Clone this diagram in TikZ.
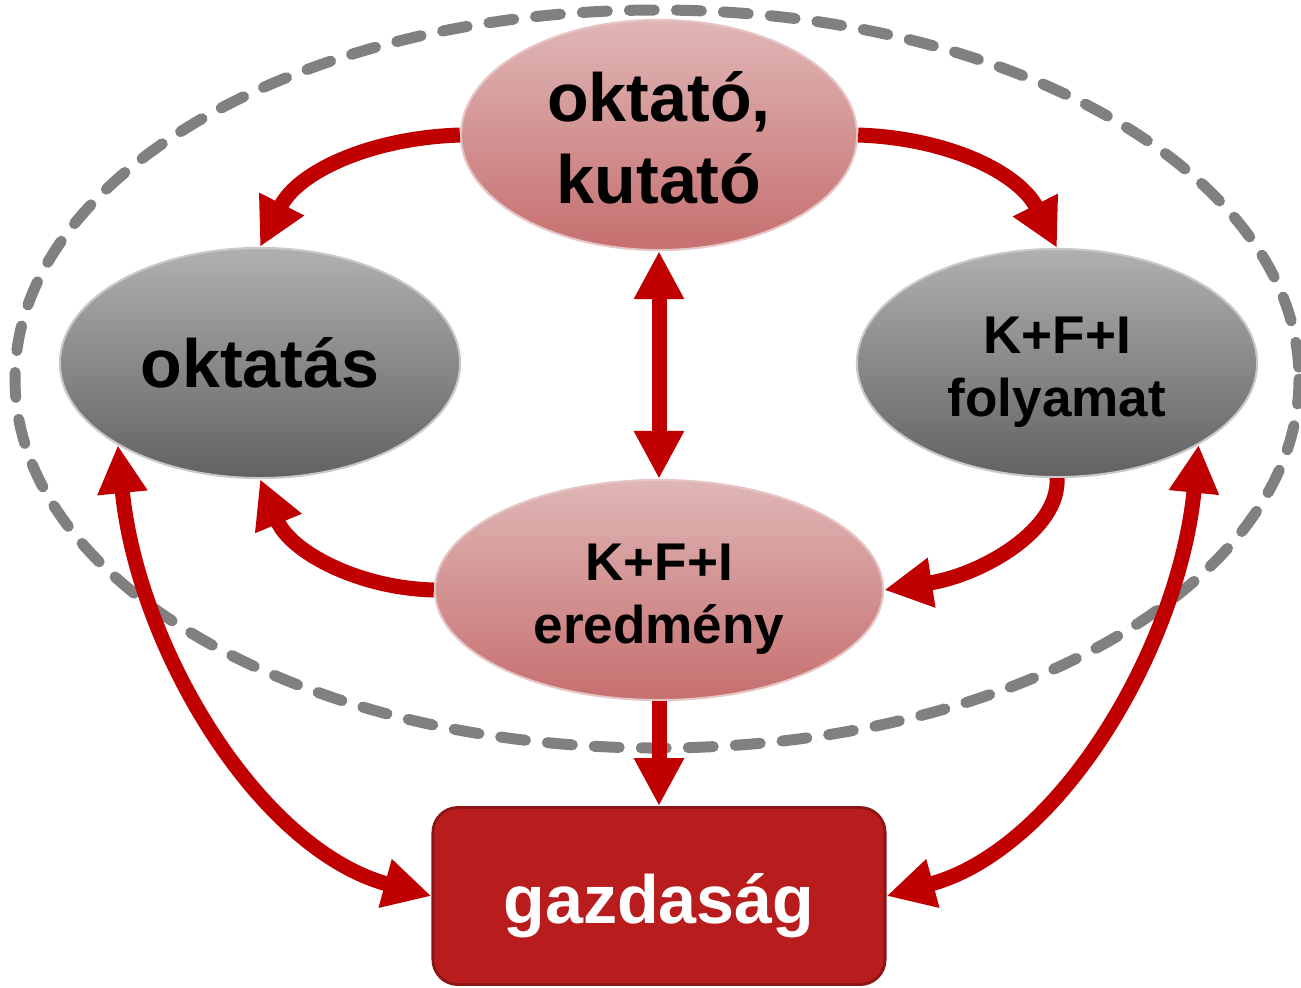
\documentclass[tikz,border=0pt]{standalone}
\usepackage{fontspec}
\setmainfont{Liberation Sans}
\usepackage{xcolor}
\usetikzlibrary{shapes.geometric, arrows.meta}

\definecolor{arrowred}{HTML}{C00000}
\definecolor{pinktop}{HTML}{E0B6B6}
\definecolor{pinkbot}{HTML}{C66F6F}
\definecolor{graytop}{HTML}{B0B0B0}
\definecolor{graybot}{HTML}{626262}
\definecolor{boxred}{HTML}{B91C1C}
\definecolor{dashgray}{HTML}{808080}

\begin{document}
\begin{tikzpicture}[x=0.01cm, y=-0.01cm,
    pinkell/.style={ellipse, inner sep=0pt, top color=pinktop, bottom color=pinkbot, draw=pinktop!80!white, line width=0.6pt, align=center},
    grayell/.style={ellipse, inner sep=0pt, top color=graytop, bottom color=graybot, draw=graytop!70!white, line width=0.6pt, align=center},
    bigtext/.style={font=\fontsize{19.4pt}{23.2pt}\selectfont\bfseries},
    smalltext/.style={font=\fontsize{15.1pt}{17.7pt}\selectfont\bfseries},
    redarrow/.style={line width=0.15cm, arrowred, -{Triangle[length=0.48cm, width=0.47cm]}},
    biarrow/.style={line width=0.15cm, arrowred, {Triangle[length=0.48cm, width=0.47cm]}-{Triangle[length=0.48cm, width=0.47cm]}}]
            \useasboundingbox (0,0) rectangle (1301,987);
            \draw[dashgray, line width=0.11cm, dash pattern=on 0.25cm off 0.22cm, line cap=round] (657,379) ellipse [x radius=642, y radius=369];
            \node at (659,135) [pinkell, bigtext, minimum width=3.96cm, minimum height=2.3cm] (kut) {\rule{0pt}{0.56cm}oktató,\\kutató};
            \node at (260,363) [grayell, bigtext, minimum width=4cm, minimum height=2.3cm] (okt) {oktatás};
            \node at (1057,363) [grayell, smalltext, minimum width=4cm, minimum height=2.28cm] (kfi) {\rule{0pt}{0.55cm}K+F+I\\folyamat};
            \node at (659,590) [pinkell, smalltext, minimum width=4.48cm, minimum height=2.2cm] (ered) {\rule{0pt}{0.55cm}K+F+I\\eredmény};
            \node at (659,896) [rectangle, rounded corners=0.25cm, fill=boxred, draw=boxred!75!black, line width=0.8pt, minimum width=4.52cm, minimum height=1.77cm, text=white, bigtext, text height=0.68cm, text depth=0.14cm] (gazd) {gazdaság};
            \draw[redarrow] (kut.west) .. controls +(-90,3) and +(38,-75) .. (okt.north);
            \draw[redarrow] (kut.east) .. controls +(90,3) and +(-38,-75) .. (kfi.north);
            \draw[biarrow] (kut.south) -- (ered.north);
            \draw[redarrow] (ered.west) .. controls +(-77,-2) and +(30,72) .. (okt.south);
            \draw[redarrow] (kfi.south) .. controls +(3,52) and +(97,-15) .. (ered.east);
            \draw[redarrow] (ered.south) -- (gazd.north);
            \draw[biarrow] (okt.210) .. controls +(20,203) and +(-173,-47) .. (gazd.west);
            \draw[biarrow] (kfi.330) .. controls +(-20,203) and +(173,-47) .. (gazd.east);
        \end{tikzpicture}
\end{document}
